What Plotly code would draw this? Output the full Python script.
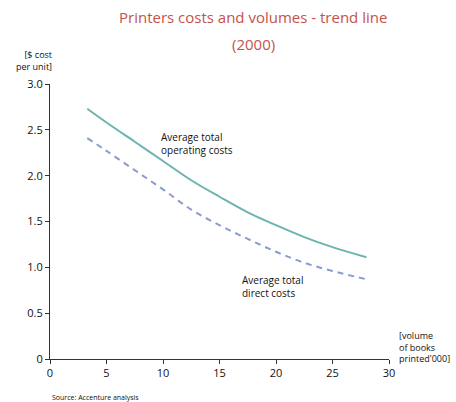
import plotly.graph_objects as go

# Volume of books printed ('000) and cost per unit ($)
volume = [3.3, 5, 7.5, 10, 12.5, 15, 17.5, 20, 22.5, 25, 28]
operating_costs = [2.73, 2.58, 2.37, 2.16, 1.95, 1.77, 1.60, 1.46, 1.33, 1.22, 1.11]
direct_costs = [2.41, 2.27, 2.06, 1.85, 1.63, 1.46, 1.31, 1.17, 1.05, 0.96, 0.87]

x_ticks = [0, 5, 10, 15, 20, 25, 30]
y_ticks = [0, 0.5, 1.0, 1.5, 2.0, 2.5, 3.0]
y_tick_text = ["0", "0.5", "1.0", "1.5", "2.0", "2.5", "3.0"]

FONT = "Open Sans, Lato, sans-serif"
TEXT = "#111111"
AXIS = "#333333"

W, H = 456, 402
L, R, T, B = 50, 67, 84, 43
PW, PH = W - L - R, H - T - B


def px(x):
    return (x - L) / PW


def py(y):
    return (H - B - y) / PH


fig = go.Figure()
fig.add_trace(go.Scatter(
    x=volume, y=operating_costs, mode="lines", line_shape="spline",
    line=dict(color="#6DB3AF", width=2), name="Average total operating costs",
))
fig.add_trace(go.Scatter(
    x=volume, y=direct_costs, mode="lines", line_shape="spline",
    line=dict(color="#8A9BD0", width=2, dash="6px,5px"), name="Average total direct costs",
))

annotations = [
    dict(x=px(253), y=py(17), text="Printers costs and volumes - trend line",
         font=dict(size=15, color="#C5524A")),
    dict(x=px(253), y=py(44), text="(2000)", font=dict(size=15, color="#C5524A")),
    dict(x=px(54), y=py(60), text="[$ cost<br>per unit]", xanchor="right",
         align="right", font=dict(size=9, color=TEXT)),
    dict(x=px(397), y=py(347), text="[volume<br>of books<br>printed'000]", xanchor="left",
         align="left", font=dict(size=9, color=TEXT)),
    dict(x=px(50), y=py(397), text="Source: Accenture analysis", xanchor="left",
         align="left", font=dict(size=7, color=TEXT)),
    dict(x=px(159), y=py(143), text="Average total<br>operating costs", xanchor="left",
         align="left", font=dict(size=10, color=TEXT)),
    dict(x=px(240), y=py(286), text="Average total<br>direct costs", xanchor="left",
         align="left", font=dict(size=10, color=TEXT)),
]
for a in annotations:
    a.update(xref="paper", yref="paper", showarrow=False)
    a.setdefault("xanchor", "center")
    a["yanchor"] = "middle"

fig.update_layout(
    width=W, height=H,
    margin=dict(l=L, r=R, t=T, b=B),
    paper_bgcolor="white", plot_bgcolor="white",
    showlegend=False,
    font=dict(family=FONT, color=TEXT, size=11),
    annotations=annotations,
    xaxis=dict(
        range=[0, 30], tickvals=x_ticks, showgrid=False, zeroline=False,
        showline=True, linecolor=AXIS, linewidth=1.2,
        ticks="outside", ticklen=4, tickcolor=AXIS,
        tickfont=dict(size=11, color=TEXT),
    ),
    yaxis=dict(
        range=[0, 3], tickvals=y_ticks, ticktext=y_tick_text, showgrid=False,
        zeroline=False, showline=True, linecolor=AXIS, linewidth=1.2,
        ticks="outside", ticklen=4, tickcolor=AXIS,
        tickfont=dict(size=11, color=TEXT),
    ),
)

fig.write_html("out.html")
